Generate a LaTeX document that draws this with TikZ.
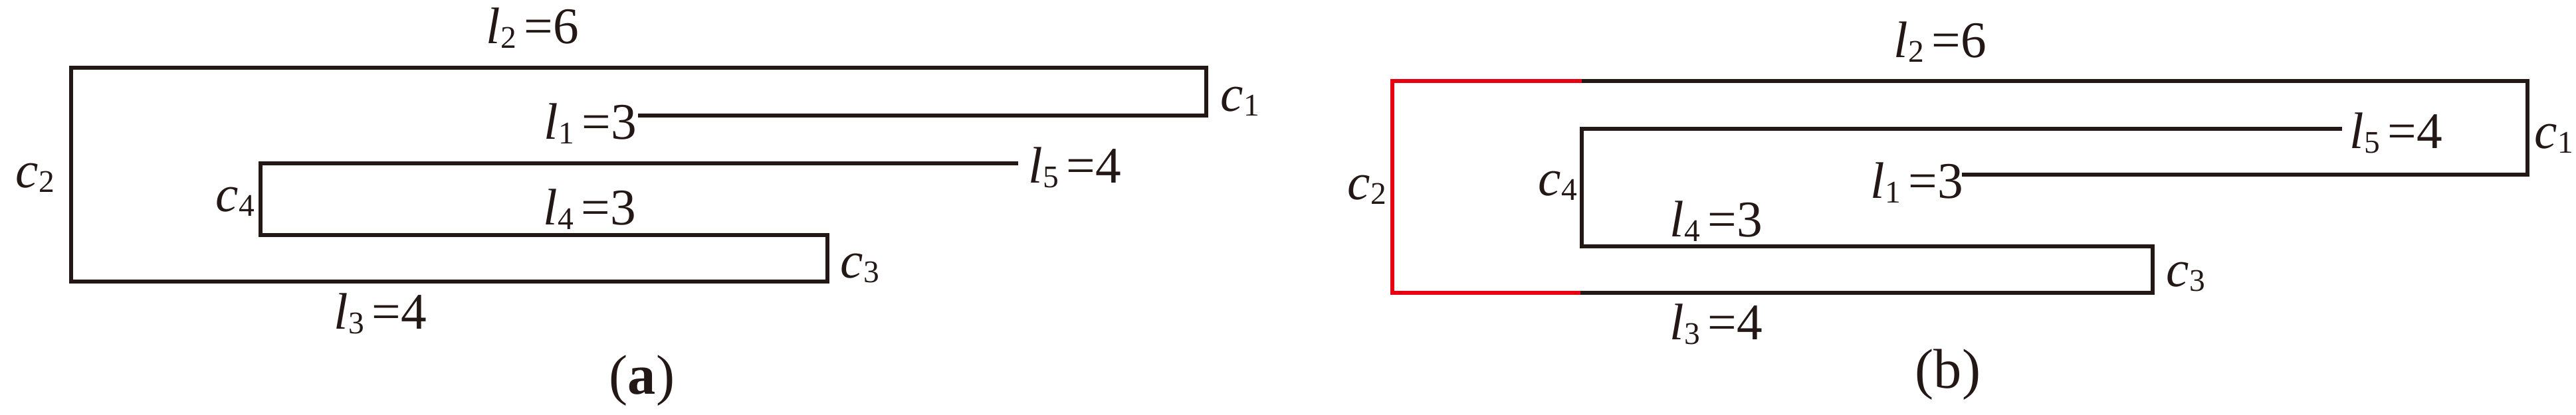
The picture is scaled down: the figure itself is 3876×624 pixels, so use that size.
\documentclass[tikz,border=0pt]{standalone}
\usepackage{fontspec}
\setmainfont{Liberation Serif}
\definecolor{ink}{RGB}{35,24,21}
\definecolor{hired}{RGB}{230,0,18}
\newcommand\vsub[1]{\raisebox{-2.2pt}{\fontsize{13.5}{13.5}\selectfont #1}}
\newcommand\lv[2]{\textit{#1}\vsub{#2}}
\newcommand\eqv[1]{\hspace{0.15em}=#1}
\begin{document}
\begin{tikzpicture}[x=0.01cm,y=-0.01cm,
  wire/.style={draw=ink,line width=1.9pt,line join=miter},
  redwire/.style={draw=hired,line width=1.9pt,line join=miter},
  lbl/.style={anchor=base west,inner sep=0pt,font=\fontsize{22}{22}\selectfont,text=ink},
  captext/.style={anchor=base,inner sep=0pt,font=\fontsize{24}{24}\selectfont,text=ink}]
\useasboundingbox (0,0) rectangle (3876,624);
% ---------- panel (a) ----------
\coordinate (a1) at (960,174);
\coordinate (a2) at (1815,174);
\coordinate (a3) at (1815,102);
\coordinate (a4) at (107,102);
\coordinate (a5) at (107,424);
\coordinate (a6) at (1245,424);
\coordinate (a7) at (1245,354);
\coordinate (a8) at (392,354);
\coordinate (a9) at (392,246);
\coordinate (a10) at (1532,246);
\draw[wire] (a1) -- (a2) -- (a3) -- (a4) -- (a5) -- (a6) -- (a7) -- (a8) -- (a9) -- (a10);
\node[lbl] (al2) at (731,65) {\lv{l}{2}\eqv{6}};
\node[lbl] (al1) at (818,209) {\lv{l}{1}\eqv{3}};
\node[lbl] (al5) at (1547,275) {\lv{l}{5}\eqv{4}};
\node[lbl] (al4) at (817,338) {\lv{l}{4}\eqv{3}};
\node[lbl] (al3) at (502,495) {\lv{l}{3}\eqv{4}};
\node[lbl] (ac1) at (1836,167) {\lv{c}{1}};
\node[lbl] (ac2) at (23,282) {\lv{c}{2}};
\node[lbl] (ac4) at (324,318) {\lv{c}{4}};
\node[lbl] (ac3) at (1264,418) {\lv{c}{3}};
\node[captext] (capa) at (966,593) {(\textbf{a})};
% ---------- panel (b) ----------
\coordinate (b1) at (2952,263);
\coordinate (b2) at (3803,263);
\coordinate (b3) at (3803,122);
\coordinate (b4) at (2380,122);
\coordinate (b5) at (2095,122);
\coordinate (b6) at (2095,441);
\coordinate (b7) at (2378,441);
\coordinate (b8) at (3239,441);
\coordinate (b9) at (3239,371);
\coordinate (b10) at (2380,371);
\coordinate (b11) at (2380,194);
\coordinate (b12) at (3524,194);
\draw[wire] (b1) -- (b2) -- (b3) -- (b4);
\draw[redwire] (b4) -- (b5) -- (b6) -- (b7);
\draw[wire] (b7) -- (b8) -- (b9) -- (b10) -- (b11) -- (b12);
\node[lbl] (bl2) at (2849,86) {\lv{l}{2}\eqv{6}};
\node[lbl] (bl5) at (3535,223) {\lv{l}{5}\eqv{4}};
\node[lbl] (bl1) at (2814,298) {\lv{l}{1}\eqv{3}};
\node[lbl] (bl4) at (2512,356) {\lv{l}{4}\eqv{3}};
\node[lbl] (bl3) at (2512,511) {\lv{l}{3}\eqv{4}};
\node[lbl] (bc1) at (3813,223) {\lv{c}{1}};
\node[lbl] (bc2) at (2027,300) {\lv{c}{2}};
\node[lbl] (bc4) at (2314,294) {\lv{c}{4}};
\node[lbl] (bc3) at (3259,431) {\lv{c}{3}};
\node[captext] (capb) at (2931,584) {(b)};
\end{tikzpicture}
\end{document}
